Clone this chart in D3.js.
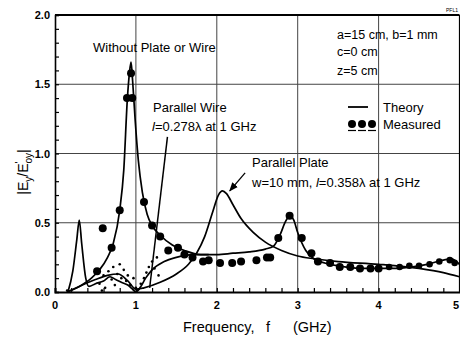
<!DOCTYPE html>
<html><head><meta charset="utf-8">
<script src="https://cdn.jsdelivr.net/npm/d3@7"></script>
<style>body{margin:0;background:#fff}svg{display:block}text{font-family:"Liberation Sans",Arial,sans-serif}</style>
</head><body><svg id="c" width="460" height="340"></svg>
<script>
// ---- data ----
const xTicks = [0,1,2,3,4,5];
const yTicks = [0.0,0.5,1.0,1.5,2.0];
const freqWithout = [0.15,0.3,0.45,0.55,0.65,0.72,0.8,0.85,0.895,0.92,0.94,0.96,0.99,1.03,1.08,1.14,1.2,1.3,1.45,1.6,1.8,2.0,2.2,2.4,2.6,2.7,2.78,2.85,2.9,2.95,3.0,3.1,3.2,3.4,3.6,3.8,4.0,4.2,4.4,4.6,4.8,4.9,5.0];
const valWithout  = [0.0,0.04,0.1,0.16,0.25,0.35,0.59,0.88,1.4,1.58,1.66,1.52,1.25,0.95,0.72,0.56,0.48,0.41,0.34,0.3,0.27,0.27,0.28,0.29,0.31,0.33,0.41,0.51,0.55,0.52,0.43,0.3,0.24,0.2,0.18,0.17,0.17,0.17,0.18,0.2,0.23,0.24,0.2];
const freqPlate = [0.15,0.3,0.5,0.65,0.78,0.9,1.0,1.1,1.3,1.5,1.65,1.75,1.85,1.95,2.02,2.07,2.12,2.2,2.3,2.45,2.6,2.8,3.0,3.2,3.5,4.0,4.5,4.8,5.0];
const valPlate  = [0.0,0.04,0.09,0.12,0.13,0.08,0.02,0.03,0.07,0.13,0.2,0.28,0.4,0.58,0.7,0.73,0.71,0.63,0.53,0.43,0.36,0.3,0.26,0.24,0.22,0.2,0.17,0.14,0.11];
const freqWire = [0.16,0.22,0.27,0.3,0.33,0.38,0.42,0.5,0.6,0.68,0.75,0.82,0.9,0.96,1.0,1.05,1.12,1.2,1.35,1.5,1.7,1.9];
const valWire  = [0.0,0.15,0.38,0.52,0.35,0.1,0.04,0.06,0.08,0.11,0.09,0.07,0.05,0.02,0.0,0.03,0.1,0.16,0.22,0.25,0.27,0.27];
const measF = [0.52,0.59,0.70,0.80,0.89,0.955,0.94,1.1,1.2,1.3,1.4,1.52,1.6,1.7,1.83,1.9,2.04,2.19,2.3,2.49,2.62,2.66,2.76,2.9,3.05,3.17,3.25,3.4,3.52,3.65,3.77,3.9,4.0,4.13,4.26,4.38,4.5,4.63,4.75,4.88,4.94];
const measV = [0.15,0.46,0.32,0.59,1.40,1.40,1.58,0.65,0.48,0.40,0.30,0.32,0.27,0.25,0.22,0.23,0.21,0.21,0.22,0.23,0.25,0.25,0.39,0.55,0.39,0.28,0.22,0.21,0.18,0.18,0.17,0.17,0.17,0.18,0.18,0.19,0.19,0.20,0.22,0.23,0.21];
const smallF = [0.15,0.55,0.58,0.6,0.62,0.66,0.7,0.72,0.74,0.77,0.8,0.82,0.85,0.88,0.9,0.93,0.97,1.0,1.03,1.06,1.1,1.13,1.16,1.2,1.23,1.26,1.28];
const smallV = [0.01,0.06,0.01,0.12,0.03,0.15,0.09,0.18,0.05,0.13,0.2,0.1,0.16,0.08,0.12,0.05,0.1,0.03,0.02,0.06,0.1,0.14,0.18,0.22,0.17,0.25,0.12];
const wireArrow = [[1.39,1.12],[1.17,0.03]];
const plateArrow = [[2.35,0.86],[2.16,0.73]];

// ---- chart ----
const svg = d3.select("#c");
const x = d3.scaleLinear().domain([0,5]).range([55,459.5]);
const y = d3.scaleLinear().domain([0,2]).range([292,15]);

// grid
const g = svg.append("g");
g.selectAll(".hg").data([0.5,1.0,1.5]).enter().append("line")
 .attr("x1",x(0)).attr("x2",x(5)).attr("y1",d=>y(d)).attr("y2",d=>y(d))
 .attr("stroke","#444").attr("stroke-width",1);
g.selectAll(".vg").data([1,2,3,4]).enter().append("line")
 .attr("y1",y(0)).attr("y2",y(2)).attr("x1",d=>x(d)).attr("x2",d=>x(d))
 .attr("stroke","#444").attr("stroke-width",1);

// axes
const xAxis = d3.axisBottom(x).tickValues(d3.range(0,5.01,0.2)).tickSize(-4).tickFormat("");
svg.append("g").attr("transform",`translate(0,${y(0)})`).call(xAxis)
  .call(s=>s.select(".domain").attr("stroke-width",2))
  .call(s=>s.selectAll(".tick line").attr("stroke-width",1.2));
const yAxis = d3.axisLeft(y).tickValues(d3.range(0,2.001,0.1)).tickSize(-4).tickFormat("");
svg.append("g").attr("transform",`translate(${x(0)},0)`).call(yAxis)
  .call(s=>s.select(".domain").attr("stroke-width",1.6))
  .call(s=>s.selectAll(".tick line").attr("stroke-width",1.2));
svg.append("line").attr("x1",x(0)).attr("x2",x(5)).attr("y1",y(2)).attr("y2",y(2)).attr("stroke","#000").attr("stroke-width",2);
svg.append("line").attr("x1",x(5)).attr("x2",x(5)).attr("y1",y(2)).attr("y2",y(0)).attr("stroke","#000").attr("stroke-width",1.2);

// tick labels
svg.selectAll(".xl").data(xTicks).enter().append("text")
 .attr("x",d=>d===5?459:x(d)).attr("y",309).attr("text-anchor",d=>d===5?"end":"middle")
 .attr("font-size",11).attr("font-weight","bold").text(d=>d);
svg.selectAll(".yl").data(yTicks).enter().append("text")
 .attr("x",50).attr("y",d=>y(d)+4).attr("text-anchor","end")
 .attr("font-size",11).attr("font-weight","bold").text(d=>d.toFixed(1));

// curves
const line = d3.line().x(d=>x(d[0])).y(d=>y(d[1])).curve(d3.curveMonotoneX);
const zip = (a,b)=>a.map((v,i)=>[v,b[i]]);
[[freqWithout,valWithout],[freqPlate,valPlate],[freqWire,valWire]].forEach(([f,v])=>{
  svg.append("path").attr("d",line(zip(f,v))).attr("fill","none").attr("stroke","#000").attr("stroke-width",1.7);
});

// measured
svg.selectAll(".sm").data(zip(smallF,smallV)).enter().append("circle")
 .attr("cx",d=>x(d[0])).attr("cy",d=>y(d[1])).attr("r",1.3).attr("fill","#000");
svg.selectAll(".mm").data(zip(measF,measV)).enter().append("circle")
 .attr("cx",d=>x(d[0])).attr("cy",d=>y(d[1])).attr("r",d=>d[0]>4.1?3.3:4).attr("fill","#000");

// arrows
const sl = d3.line().x(d=>x(d[0])).y(d=>y(d[1]));
svg.append("path").attr("d",sl(wireArrow)).attr("stroke","#000").attr("stroke-width",1.5).attr("fill","none");
svg.append("defs").append("marker").attr("id","ah").attr("viewBox","0 0 10 10").attr("refX",9).attr("refY",5)
 .attr("markerWidth",7).attr("markerHeight",7).attr("orient","auto")
 .append("path").attr("d","M0,1 L10,5 L0,9 Z").attr("fill","#000");
svg.append("path").attr("d",sl(plateArrow)).attr("stroke","#000").attr("stroke-width",1.3).attr("fill","none").attr("marker-end","url(#ah)");

// annotations
function txt(xp,yp,size,parts){
  const t = svg.append("text").attr("x",xp).attr("y",yp).attr("font-size",size);
  parts.forEach(p=>{ const s=t.append("tspan").text(p[0]); if(p[1]) s.attr("font-style","italic"); });
  return t;
}
txt(93,52,13,[["Without  Plate or Wire"]]);
txt(153,112,13,[["Parallel  Wire"]]);
txt(152,131,13,[["l",1],["=0.278λ  at 1 GHz"]]);
txt(252,167,13,[["Parallel  Plate"]]);
txt(252,187,13,[["w=10 mm,  "],["l",1],["=0.358λ  at 1 GHz"]]);
txt(337,39,12.5,[["a=15 cm, b=1 mm"]]);
txt(337,56,12.5,[["c=0 cm"]]);
txt(337,75,12.5,[["z=5 cm"]]);
svg.append("text").attr("x",446).attr("y",12).attr("font-size",5).text("PFL1");

// legend
svg.append("line").attr("x1",348).attr("x2",368).attr("y1",107).attr("y2",107).attr("stroke","#000").attr("stroke-width",1.8);
txt(383,112,13,[["Theory"]]);
[352,362,372].forEach(cx=>{
  svg.append("circle").attr("cx",cx).attr("cy",124).attr("r",4).attr("fill","#000");
  svg.append("line").attr("x1",cx-4).attr("x2",cx+4).attr("y1",130.5).attr("y2",130.5).attr("stroke","#000").attr("stroke-width",1.2);
});
txt(383,129,13,[["Measured"]]);

// axis titles
const xt = svg.append("text").attr("x",183).attr("y",332).attr("font-size",14.5);
xt.append("tspan").text("Frequency,");
xt.append("tspan").attr("x",266).text("f");
xt.append("tspan").attr("x",293).text("(GHz)");

const yt = svg.append("text").attr("transform","translate(28,172) rotate(-90)").attr("text-anchor","middle").attr("font-size",14);
yt.append("tspan").text("|E");
yt.append("tspan").attr("font-size",10).attr("dy",4).text("y");
yt.append("tspan").attr("dy",-4).text("/E");
yt.append("tspan").attr("font-size",10).attr("dy",-5).text("'");
yt.append("tspan").attr("font-size",10).attr("dy",9).attr("dx",-2).text("oy");
yt.append("tspan").attr("dy",-4).text("|");
</script></body></html>
